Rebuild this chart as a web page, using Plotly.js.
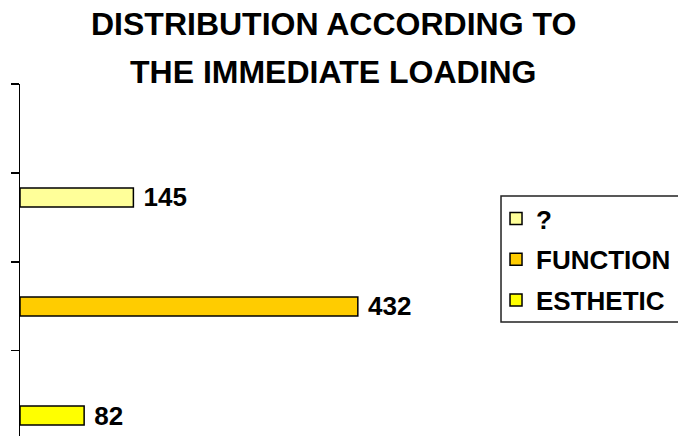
<!DOCTYPE html>
<html>
<head>
<meta charset="utf-8">
<script src="https://cdn.plot.ly/plotly-3.0.1.min.js"></script>
<style>html,body{margin:0;padding:0;background:#fff;}#chart{width:678px;height:436px;}</style>
</head>
<body>
<div id="chart"></div>
<script>
const categories = ['?', 'FUNCTION', 'ESTHETIC'];
const values = [145, 432, 82];
const colors = ['#FFFF99', '#FFCC00', '#FFFF00'];
const titleLines = ['DISTRIBUTION ACCORDING TO', 'THE IMMEDIATE LOADING'];

const FONT = 'Liberation Sans, Arial, sans-serif';

const traces = categories.map((c, i) => ({
  type: 'bar',
  orientation: 'h',
  name: c,
  y: [c],
  x: [values[i]],
  width: 0.174,
  marker: {color: colors[i], line: {color: '#000', width: 1.5}},
  text: [' ' + values[i]],
  textposition: 'outside',
  constraintext: 'none',
  cliponaxis: false,
  textfont: {family: FONT, size: 26, weight: 'bold', color: '#000'},
  legendgroup: c,
  hoverinfo: 'none'
}));

traces.push({type: 'scatter', x: [], y: [], yaxis: 'y2', showlegend: false, hoverinfo: 'skip'});

const layout = {
  width: 678,
  height: 436,
  margin: {l: 20, r: 178, t: 84, b: 0, autoexpand: false},
  paper_bgcolor: '#fff',
  plot_bgcolor: '#fff',
  barmode: 'overlay',
  showlegend: true,
  xaxis: {range: [0, 613.8], visible: false, fixedrange: true},
  yaxis: {
    type: 'category',
    categoryorder: 'array',
    categoryarray: categories,
    range: [2.188, -1.041],
    visible: false,
    fixedrange: true
  },
  yaxis2: {
    overlaying: 'y',
    anchor: 'x',
    side: 'left',
    range: [0.0405, 4.0005],
    tickmode: 'linear',
    tick0: 0,
    dtick: 1,
    ticks: 'outside',
    ticklen: 8,
    tickwidth: 1.5,
    tickcolor: '#000',
    showline: true,
    linecolor: '#000',
    linewidth: 1.5,
    showticklabels: false,
    showgrid: false,
    zeroline: false,
    fixedrange: true
  },
  legend: {
    x: 0.9917,
    y: 0.6847,
    xanchor: 'left',
    yanchor: 'top',
    bgcolor: 'rgba(0,0,0,0)',
    borderwidth: 0,
    font: {family: FONT, size: 26, weight: 'bold', color: '#000'},
    traceorder: 'grouped',
    tracegroupgap: 4
  },
  shapes: [{
    type: 'rect',
    xref: 'paper',
    yref: 'paper',
    x0: 1.0021,
    x1: 1.396,
    y0: 0.3239,
    y1: 0.6818,
    line: {color: '#222', width: 1.5},
    fillcolor: '#fff',
    layer: 'above'
  }],
  annotations: titleLines.map((t, i) => ({
    text: t,
    xref: 'paper',
    yref: 'paper',
    x: 0.654,
    y: i === 0 ? 1.1705 : 1.035,
    xanchor: 'center',
    yanchor: 'middle',
    showarrow: false,
    font: {family: FONT, size: 32, weight: 'bold', color: '#000'}
  }))
};

Plotly.newPlot('chart', traces, layout, {displayModeBar: false, staticPlot: true});
</script>
</body>
</html>
